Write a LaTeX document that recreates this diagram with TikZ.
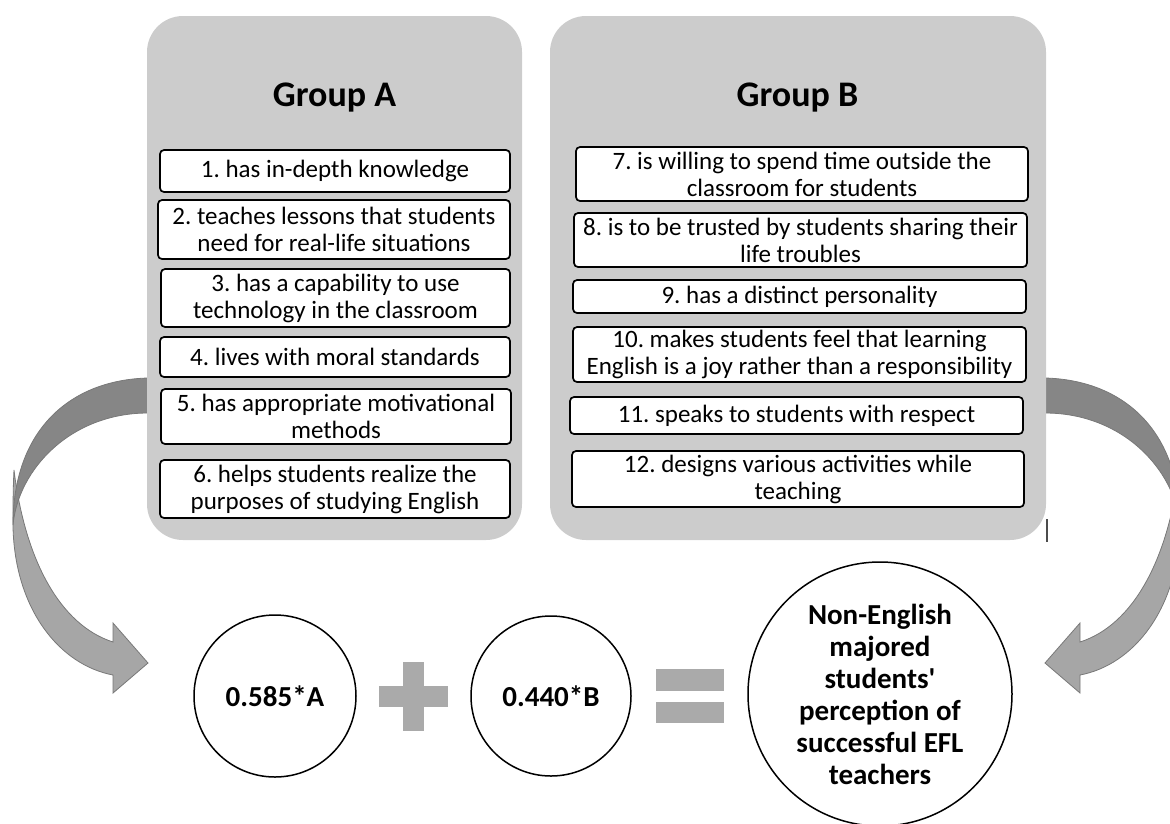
\documentclass[tikz,border=0pt]{standalone}
\usepackage{fontspec}
\setmainfont{Carlito}[Ligatures=TeXOff]
\usetikzlibrary{positioning, calc}
\definecolor{panelgrey}{RGB}{204,204,204}
\definecolor{arrowdark}{RGB}{134,134,134}
\definecolor{arrowlight}{RGB}{166,166,166}
\definecolor{arrowline}{RGB}{120,120,120}
\definecolor{signgrey}{RGB}{170,170,170}
\frenchspacing

\tikzset{
  panel/.style={fill=panelgrey, rounded corners=36pt, inner sep=0pt},
  grouptitle/.style={font=\fontsize{36}{40}\selectfont\bfseries, inner sep=0pt},
  itembox/.style={draw, line width=1.7pt, rounded corners=4pt, fill=white, align=center, inner sep=0pt, font=\fontsize{25}{27}\selectfont},
  termcircle/.style={circle, draw, line width=1.5pt, fill=white, align=center, inner sep=0pt, font=\fontsize{29}{32}\selectfont\bfseries},
  bentarrow/.pic={
    \filldraw[fill=arrowlight, draw=arrowline, line width=0.8pt] (14,470) .. controls (13,490) and (13,505) .. (13,527) .. controls (15,610) and (60,665) .. (113,675) -- (113,693) -- (148,663) -- (113,623) -- (113,642) .. controls (60,625) and (25,560) .. (14,470) -- cycle;
    \filldraw[fill=arrowdark, draw=arrowline, line width=0.8pt] (148,378) .. controls (70,380) and (13,430) .. (13,525) .. controls (18,470) and (70,413) .. (148,413) -- cycle;
  }
}

\begin{document}
\begin{tikzpicture}[x=1pt, y=-1pt]
  \useasboundingbox (0,0) rectangle (1170,823);
  \clip (0,0) rectangle (1170,823);
  % Bent arrows
  \pic at (0,0) {bentarrow};
  \pic[xscale=-1] at (1193,0) {bentarrow};
  % Panels
  \node[panel, minimum width=375pt, minimum height=524pt] (groupA) at (334.5,278) {};
  \node[panel, minimum width=496pt, minimum height=524pt] (groupB) at (798,278) {};
  \node[grouptitle, anchor=base] (titleA) at (334.5,106) {Group A};
  \node[grouptitle, anchor=base] (titleB) at (797.5,106) {Group B};
  % Group A items
  \node[itembox, minimum width=350pt, minimum height=42pt] (a1) at (335,171) {1. has in-depth knowledge};
  \node[itembox, minimum width=352pt, minimum height=59pt] (a2) at (334,229.5) {2. teaches lessons that students\\need for real-life situations};
  \node[itembox, minimum width=349pt, minimum height=58pt] (a3) at (335.5,298) {3. has a capability to use\\technology in the classroom};
  \node[itembox, minimum width=350pt, minimum height=40pt] (a4) at (335,357) {4. lives with moral standards};
  \node[itembox, minimum width=350pt, minimum height=55pt] (a5) at (336,416.5) {5. has appropriate motivational\\methods};
  \node[itembox, minimum width=350pt, minimum height=58pt] (a6) at (335,489) {6. helps students realize the\\purposes of studying English};
  % Group B items
  \node[itembox, minimum width=452pt, minimum height=54pt] (b7) at (802,174) {7. is willing to spend time outside the\\classroom for students};
  \node[itembox, minimum width=453pt, minimum height=54pt] (b8) at (800.5,240) {8. is to be trusted by students sharing their\\life troubles};
  \node[itembox, minimum width=453pt, minimum height=33pt] (b9) at (799.5,296.5) {9. has a distinct personality};
  \node[itembox, minimum width=453pt, minimum height=55pt] (b10) at (799.5,354.5) {10. makes students feel that learning\\English is a joy rather than a responsibility};
  \node[itembox, minimum width=453pt, minimum height=37pt] (b11) at (796.5,415.5) {11. speaks to students with respect};
  \node[itembox, minimum width=452pt, minimum height=56pt] (b12) at (798,479) {12. designs various activities while\\teaching};
  \draw[line width=1.2pt, black!70] (1047,519) -- (1047,542);
  % Equation
  \node[termcircle, minimum size=162pt] (termA) at (275,696) {0.585*A};
  \node[termcircle, minimum size=160pt] (termB) at (551,696) {0.440*B};
  \node[termcircle, minimum size=264pt] (result) at (880,694) {Non-English\\majored\\students'\\perception of\\successful EFL\\teachers};
  \fill[signgrey] (379,686) rectangle (448,707);
  \fill[signgrey] (403,662) rectangle (424,731);
  \fill[signgrey] (656,669) rectangle (724,691);
  \fill[signgrey] (656,702) rectangle (724,723);
\end{tikzpicture}
\end{document}
